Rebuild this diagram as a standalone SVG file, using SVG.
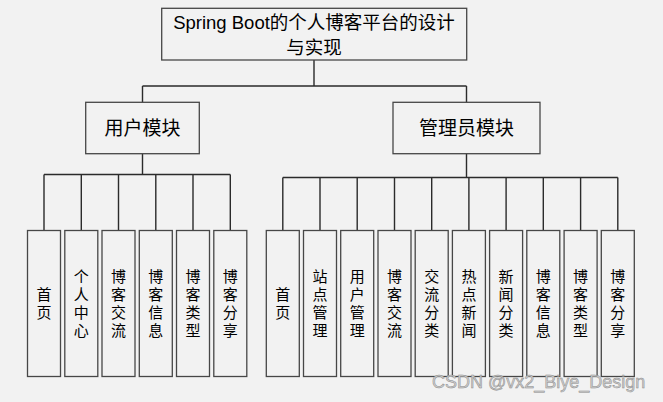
<svg xmlns="http://www.w3.org/2000/svg" width="663" height="402" viewBox="0 0 663 402">
<style>
.box{fill:#f2f2f2;stroke:#474747;stroke-width:1.3}
.ln{fill:none;stroke:#2b2b2b;stroke-width:1.4}
.t{font-family:"Liberation Sans","Noto Sans CJK SC",sans-serif;fill:#000}
.v{font-family:"Noto Sans CJK SC",sans-serif;font-size:15px;fill:#000;text-anchor:middle;writing-mode:vertical-rl;letter-spacing:3.3px}
.wm{font-family:"Liberation Sans",sans-serif;font-size:18px;fill:#d0d0d0;stroke:#8a8a8a;stroke-width:0.5}
</style>
<rect width="663" height="402" fill="#f2f2f2"/>
<g id="connectors">
<path class="ln" d="M314 60V86M142.5 86H466.5M142.5 86V102.5M466.5 86V102.5"/>
<path class="ln" d="M142.5 153.5V174.5M44 174.5H230.3M44 174.5V230.5M81.3 174.5V230.5M118.5 174.5V230.5M155.8 174.5V230.5M193 174.5V230.5M230.3 174.5V230.5"/>
<path class="ln" d="M466.5 153.5V177.5M282.8 177.5H617.8M282.8 177.5V230.5M320 177.5V230.5M357.2 177.5V230.5M394.5 177.5V230.5M431.7 177.5V230.5M468.9 177.5V230.5M506.1 177.5V230.5M543.3 177.5V230.5M580.6 177.5V230.5M617.8 177.5V230.5"/>
</g>
<g id="root">
<rect class="box" x="161.7" y="8.3" width="305" height="51.7"/>
<text class="t" x="314" y="29" font-size="18.5" text-anchor="middle">Spring Boot的个人博客平台的设计</text>
<text class="t" x="314" y="54" font-size="18.5" text-anchor="middle">与实现</text>
</g>
<g id="user-module">
<rect class="box" x="85.7" y="102.3" width="113.6" height="51.4"/>
<text class="t" x="142.5" y="135" font-size="19" text-anchor="middle">用户模块</text>
</g>
<g id="admin-module">
<rect class="box" x="393" y="102.3" width="147" height="51.4"/>
<text class="t" x="466.5" y="135" font-size="19" text-anchor="middle">管理员模块</text>
</g>
<g id="u1"><rect class="box" x="27.5" y="230.5" width="33" height="146"/><text class="v" x="44" y="305">首页</text></g>
<g id="u2"><rect class="box" x="64.8" y="230.5" width="33" height="146"/><text class="v" x="81.3" y="305">个人中心</text></g>
<g id="u3"><rect class="box" x="102" y="230.5" width="33" height="146"/><text class="v" x="118.5" y="305">博客交流</text></g>
<g id="u4"><rect class="box" x="139.3" y="230.5" width="33" height="146"/><text class="v" x="155.8" y="305">博客信息</text></g>
<g id="u5"><rect class="box" x="176.5" y="230.5" width="33" height="146"/><text class="v" x="193" y="305">博客类型</text></g>
<g id="u6"><rect class="box" x="213.8" y="230.5" width="33" height="146"/><text class="v" x="230.3" y="305">博客分享</text></g>
<g id="a1"><rect class="box" x="266.3" y="230.5" width="33" height="146"/><text class="v" x="282.8" y="305">首页</text></g>
<g id="a2"><rect class="box" x="303.5" y="230.5" width="33" height="146"/><text class="v" x="320" y="305">站点管理</text></g>
<g id="a3"><rect class="box" x="340.7" y="230.5" width="33" height="146"/><text class="v" x="357.2" y="305">用户管理</text></g>
<g id="a4"><rect class="box" x="378" y="230.5" width="33" height="146"/><text class="v" x="394.5" y="305">博客交流</text></g>
<g id="a5"><rect class="box" x="415.2" y="230.5" width="33" height="146"/><text class="v" x="431.7" y="305">交流分类</text></g>
<g id="a6"><rect class="box" x="452.4" y="230.5" width="33" height="146"/><text class="v" x="468.9" y="305">热点新闻</text></g>
<g id="a7"><rect class="box" x="489.6" y="230.5" width="33" height="146"/><text class="v" x="506.1" y="305">新闻分类</text></g>
<g id="a8"><rect class="box" x="526.8" y="230.5" width="33" height="146"/><text class="v" x="543.3" y="305">博客信息</text></g>
<g id="a9"><rect class="box" x="564.1" y="230.5" width="33" height="146"/><text class="v" x="580.6" y="305">博客类型</text></g>
<g id="a10"><rect class="box" x="601.3" y="230.5" width="33" height="146"/><text class="v" x="617.8" y="305">博客分享</text></g>
<text class="wm" x="432" y="388">CSDN @vx2_Biye_Design</text>
</svg>
